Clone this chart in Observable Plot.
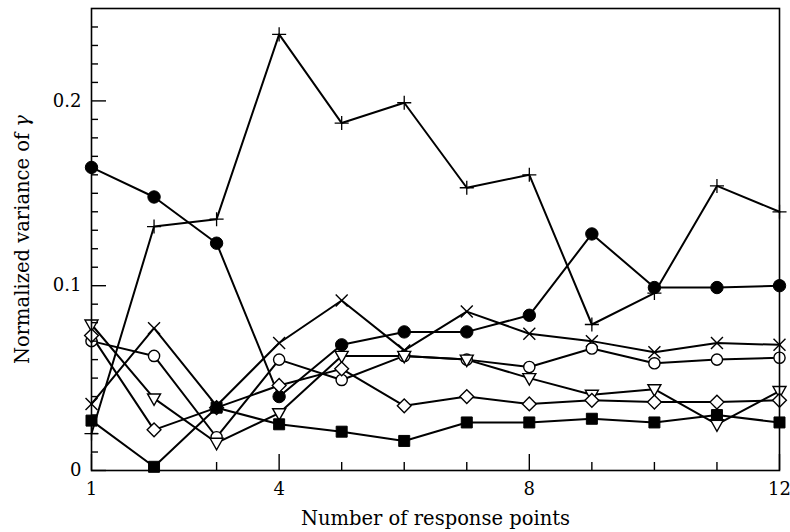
<!DOCTYPE html>
<html>
<head>
<meta charset="utf-8">
<script src="https://cdn.jsdelivr.net/npm/d3@7"></script>
<script src="https://cdn.jsdelivr.net/npm/@observablehq/plot@0.6"></script>
<style>
  body { margin: 0; background: #fff; }
</style>
</head>
<body>
<div id="chart"></div>
<script>
// Number of response points (x) and normalized variance of γ per method
const responsePoints = [1, 2, 3, 4, 5, 6, 7, 8, 9, 10, 11, 12];
const plusValues     = [0.020, 0.132, 0.136, 0.236, 0.188, 0.199, 0.153, 0.160, 0.079, 0.096, 0.154, 0.140];
const filledCircle   = [0.164, 0.148, 0.123, 0.040, 0.068, 0.075, 0.075, 0.084, 0.128, 0.099, 0.099, 0.100];
const timesValues    = [0.036, 0.077, 0.035, 0.069, 0.092, 0.065, 0.086, 0.074, 0.070, 0.064, 0.069, 0.068];
const openCircle     = [0.070, 0.062, 0.018, 0.060, 0.049, 0.062, 0.060, 0.056, 0.066, 0.058, 0.060, 0.061];
const triangleValues = [0.079, 0.039, 0.015, 0.031, 0.062, 0.062, 0.060, 0.050, 0.041, 0.044, 0.025, 0.043];
const diamondValues  = [0.073, 0.022, 0.034, 0.046, 0.055, 0.035, 0.040, 0.036, 0.038, 0.037, 0.037, 0.038];
const squareValues   = [0.027, 0.002, 0.034, 0.025, 0.021, 0.016, 0.026, 0.026, 0.028, 0.026, 0.030, 0.026];

const xMajorTicks = [1, 4, 8, 12];
const yMajorTicks = [0, 0.1, 0.2];

// open triangle pointing down
const triangleDown = {
  draw(ctx, size) {
    const k = Math.sqrt(size / Math.PI) / 6;
    ctx.moveTo(-6.5 * k, -4.5 * k);
    ctx.lineTo(6.5 * k, -4.5 * k);
    ctx.lineTo(0, 7 * k);
    ctx.closePath();
  }
};

const seriesDefs = [
  {name: "plus",     values: plusValues,     symbol: "plus",     r: 4.6, fill: "none",  stroke: "black", sw: 1.3},
  {name: "filled",   values: filledCircle,   symbol: "circle",   r: 6.2, fill: "black", stroke: "black", sw: 1},
  {name: "times",    values: timesValues,    symbol: "times",    r: 5.5, fill: "none",  stroke: "black", sw: 1.4},
  {name: "open",     values: openCircle,     symbol: "circle",   r: 5.6, fill: "white", stroke: "black", sw: 1.4},
  {name: "triangle", values: triangleValues, symbol: triangleDown, r: 6, fill: "white", stroke: "black", sw: 1.4},
  {name: "diamond",  values: diamondValues,  symbol: "diamond2", r: 6.2, fill: "white", stroke: "black", sw: 1.4},
  {name: "square",   values: squareValues,   symbol: "square",   r: 6.2, fill: "black", stroke: "black", sw: 1}
];

const rows = seriesDefs.flatMap(s => s.values.map((v, i) => ({series: s.name, n: responsePoints[i], v})));

const W = 790, H = 532;
const mL = 91, mR = 11, mT = 8, mB = 62;
const plotW = W - mL - mR, plotH = H - mT - mB;

const xMinor = responsePoints.filter(d => !xMajorTicks.includes(d));
const yMinor = d3.range(1, 25).map(i => i / 100).filter(d => Math.abs(d - 0.1) > 1e-9 && Math.abs(d - 0.2) > 1e-9);

const chart = Plot.plot({
  width: W,
  height: H,
  marginLeft: mL,
  marginRight: mR,
  marginTop: mT,
  marginBottom: mB,
  style: {fontFamily: "'DejaVu Serif', serif", fontSize: "18px", background: "white", color: "black"},
  x: {domain: [1, 12]},
  y: {domain: [0, 0.25]},
  marks: [
    Plot.line(rows, {x: "n", y: "v", z: "series", stroke: "black", strokeWidth: 2}),
    ...seriesDefs.map(s => Plot.dot(rows.filter(d => d.series === s.name), {
      x: "n", y: "v", symbol: () => s.symbol, r: s.r,
      fill: s.fill, stroke: s.stroke, strokeWidth: s.sw
    })),
    Plot.frame({stroke: "black", strokeWidth: 1.6}),
    // inward tick marks
    Plot.tickY(yMinor, {y: d => d, insetRight: plotW - 7, stroke: "black", strokeWidth: 1.4}),
    Plot.tickY(yMajorTicks, {y: d => d, insetRight: plotW - 15, stroke: "black", strokeWidth: 1.4}),
    Plot.tickX(xMinor, {x: d => d, insetTop: plotH - 8, stroke: "black", strokeWidth: 1.4}),
    Plot.tickX(xMajorTicks, {x: d => d, insetTop: plotH - 16, stroke: "black", strokeWidth: 1.4}),
    Plot.axisX({ticks: xMajorTicks, tickSize: 0, tickPadding: 12, label: null, fontSize: 18}),
    Plot.axisY({ticks: yMajorTicks, tickSize: 0, tickPadding: 10, label: null, fontSize: 18,
                tickFormat: d => d === 0 ? "0" : d.toFixed(1)}),
    Plot.text(["Number of response points"], {frameAnchor: "bottom", dy: 54, fontSize: 19.5, fill: "black"}),
    Plot.text(["Normalized variance of γ"], {frameAnchor: "left", dx: -69, rotate: -90, textAnchor: "middle", fontSize: 19.5, fill: "black"})
  ]
});

// set γ in italics
chart.querySelectorAll("text").forEach(t => {
  if (t.textContent === "Normalized variance of γ") {
    const ns = "http://www.w3.org/2000/svg";
    t.textContent = "";
    const a = document.createElementNS(ns, "tspan");
    a.textContent = "Normalized variance of ";
    const b = document.createElementNS(ns, "tspan");
    b.textContent = "γ";
    b.setAttribute("font-style", "italic");
    t.appendChild(a);
    t.appendChild(b);
  }
});

document.getElementById("chart").appendChild(chart);
</script>
</body>
</html>
